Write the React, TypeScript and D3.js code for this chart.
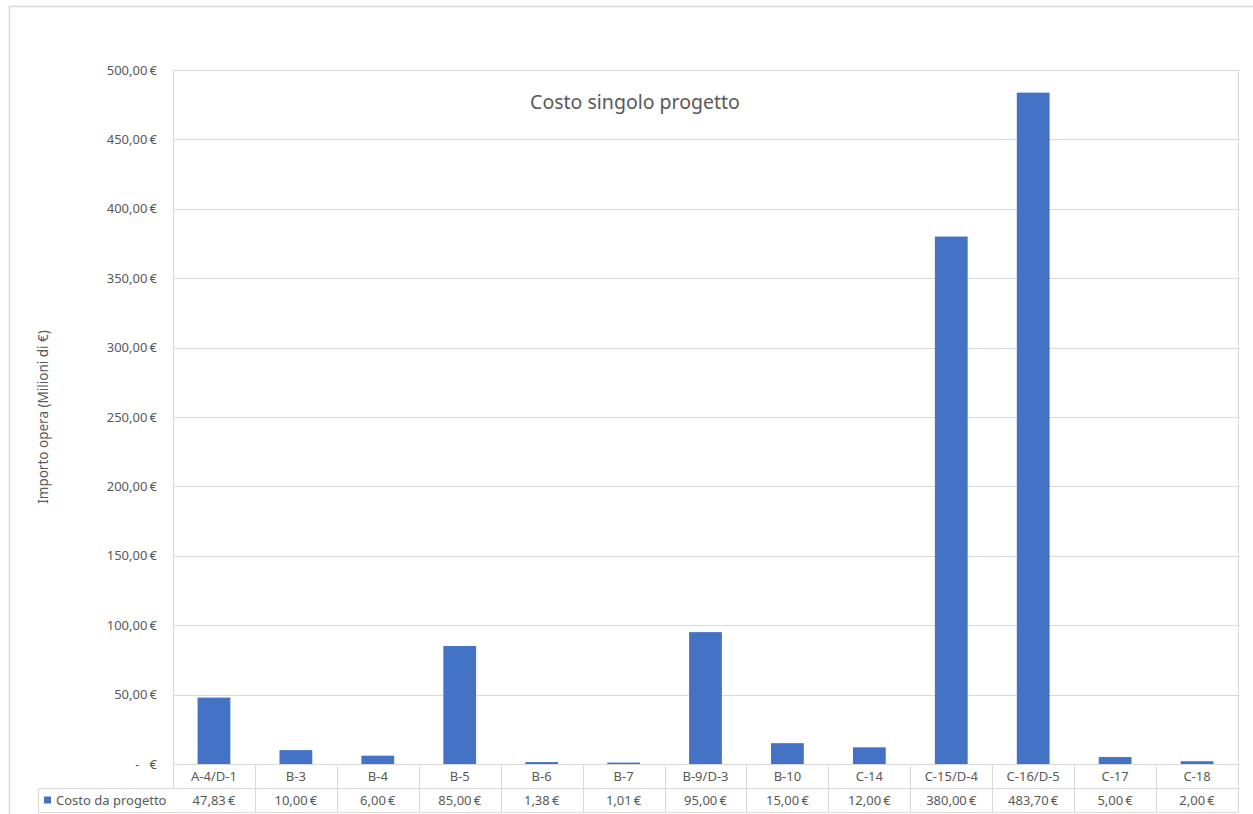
import React from "react";
import * as d3 from "d3";

const categories = ["A-4/D-1", "B-3", "B-4", "B-5", "B-6", "B-7", "B-9/D-3", "B-10", "C-14", "C-15/D-4", "C-16/D-5", "C-17", "C-18"];
const costs = [47.83, 10.0, 6.0, 85.0, 1.38, 1.01, 95.0, 15.0, 12.0, 380.0, 483.7, 5.0, 2.0];
const yTicks = [0, 50, 100, 150, 200, 250, 300, 350, 400, 450, 500];
const seriesName = "Costo da progetto";
const chartTitle = "Costo singolo progetto";
const yTitle = "Importo opera (Milioni di €)";

const W = 1253;
const H = 814;
const left = 173;
const right = 1238;
const top = 70;
const bottom = 764;
const rowH = 24;
const tableLeft = 38;
const font = "'Noto Sans', sans-serif";
const textColor = "#595959";
const gridColor = "#d9d9d9";
const barColor = "#4472C4";

const euro = (v: number) => {
  if (v === 0) return "-   €";
  return d3.format(",.2f")(v).replace(/,/g, "X").replace(".", ",").replace(/X/g, ".") + "\u2009€";
};

const App = () => {
  const x = d3.scaleBand().domain(categories).range([left, right]).paddingInner(0.6).paddingOuter(0.3);
  const xCell = d3.scaleBand().domain(categories).range([left, right]);
  const y = d3.scaleLinear().domain([0, 500]).range([bottom, top]);

  return (
    <svg width={W} height={H} style={{ position: "absolute", left: 0, top: 0, background: "#fff" }} fontFamily={font}>
      <rect x={9.5} y={6.5} width={W} height={H} fill="#fff" stroke={gridColor} strokeWidth={1.5} />

      {/* grid lines */}
      {yTicks.map(t => (
        <line key={t} x1={left} x2={right} y1={Math.round(y(t)) + 0.5} y2={Math.round(y(t)) + 0.5} stroke={gridColor} />
      ))}
      <line x1={left + 0.5} x2={left + 0.5} y1={top} y2={bottom + rowH} stroke={gridColor} />
      <line x1={right + 0.5} x2={right + 0.5} y1={top} y2={bottom + rowH * 2} stroke={gridColor} />

      {/* y tick labels */}
      {yTicks.map(t => (
        <text key={t} x={157} y={y(t)} dy="0.35em" textAnchor="end" fontSize={13} fill={textColor} style={{ whiteSpace: "pre" }}>
          {euro(t)}
        </text>
      ))}

      <text transform={`translate(48,${(top + bottom) / 2}) rotate(-90)`} textAnchor="middle" fontSize={13.5} fill={textColor}>
        {yTitle}
      </text>

      <text x={635} y={102} dy="0.35em" textAnchor="middle" fontSize={19.5} fill={textColor}>
        {chartTitle}
      </text>

      {/* bars */}
      {categories.map((c, i) => (
        <rect key={c} x={x(c)} y={y(costs[i])} width={x.bandwidth()} height={bottom - y(costs[i])} fill={barColor} />
      ))}

      {/* data table */}
      <line x1={tableLeft} x2={right} y1={bottom + rowH + 0.5} y2={bottom + rowH + 0.5} stroke={gridColor} />
      <line x1={tableLeft} x2={right} y1={bottom + rowH * 2 + 0.5} y2={bottom + rowH * 2 + 0.5} stroke={gridColor} />
      <line x1={tableLeft + 0.5} x2={tableLeft + 0.5} y1={bottom + rowH} y2={bottom + rowH * 2} stroke={gridColor} />
      {categories.map((c, i) => (
        <g key={c}>
          {i > 0 && (
            <line x1={Math.round(xCell(c)!) + 0.5} x2={Math.round(xCell(c)!) + 0.5} y1={bottom} y2={bottom + rowH * 2} stroke={gridColor} />
          )}
          <text x={xCell(c)! + xCell.bandwidth() / 2} y={bottom + rowH / 2} dy="0.35em" textAnchor="middle" fontSize={13} fill={textColor}>
            {c}
          </text>
          <text x={xCell(c)! + xCell.bandwidth() / 2} y={bottom + rowH * 1.5} dy="0.35em" textAnchor="middle" fontSize={13} fill={textColor}>
            {euro(costs[i])}
          </text>
        </g>
      ))}
      <rect x={44} y={bottom + rowH * 1.5 - 3.5} width={7} height={7} fill={barColor} />
      <text x={56} y={bottom + rowH * 1.5} dy="0.35em" fontSize={13} fill={textColor}>
        {seriesName}
      </text>
    </svg>
  );
};

export default App;
